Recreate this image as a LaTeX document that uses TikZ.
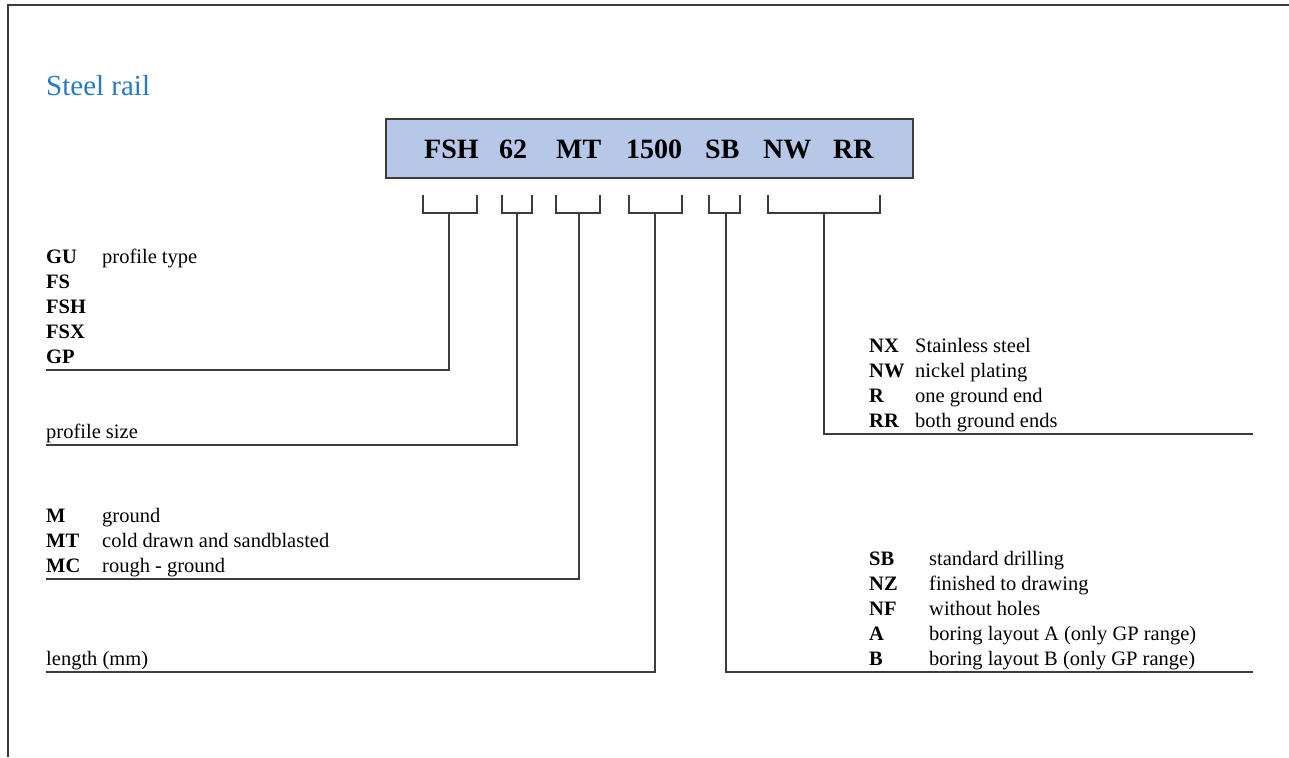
\documentclass[tikz,border=0pt]{standalone}
\usepackage{fontspec}
\setmainfont{Liberation Serif}
\usepackage{array}
\definecolor{codeblue}{RGB}{182,199,231}
\definecolor{titleblue}{RGB}{40,122,192}
\definecolor{linegray}{RGB}{60,60,60}

\tikzset{
  frame/.style={draw=linegray, line width=2pt},
  codebox/.style={draw=linegray, fill=codeblue, line width=2pt, minimum width=527pt, minimum height=59pt, inner sep=0pt},
  token/.style={anchor=base west, inner sep=0pt, font=\fontsize{28}{34}\selectfont\bfseries},
  bracket/.style={draw=linegray, line width=1.2pt},
  leader/.style={draw=linegray, line width=1.3pt},
  legend/.style={anchor=south west, inner xsep=0pt, inner ysep=-1.5pt, font=\fontsize{20.5}{25}\selectfont},
}

\begin{document}
\begin{tikzpicture}[x=1pt, y=-1pt]
        \useasboundingbox (0,0) rectangle (1289,757);
        \draw[frame] (1289,5.5) -- (8,5.5) -- (8,757);

        % --- TITLE AND CODE ---
        \node (title) at (46,96) [anchor=base west, inner sep=0pt, text=titleblue, font=\fontsize{29}{35}\selectfont] {Steel rail};
        \node (code) at (649.5,148.5) [codebox] {};
        \node (fsh) at (424,158) [token] {FSH};
        \node (size62) at (499,158) [token] {62};
        \node (mt) at (556,158) [token] {MT};
        \node (len1500) at (626,158) [token] {1500};
        \node (sb) at (705,158) [token] {SB};
        \node (nw) at (763,158) [token] {NW};
        \node (rr) at (833,158) [token] {RR};

        % --- BRACKETS ---
        \foreach \i/\a/\b/\m in {1/423/477/449, 2/502/532/517, 3/556/600/579, 4/629/682/655, 5/709/740/726, 6/768/880/824} {
            \draw[bracket] (\a,195) |- (\b,213) -- (\b,195);
            \coordinate (s\i) at (\m,213);
        }
        \coordinate (e5) at (1253,672);
        \coordinate (e6) at (1253,434);

        % --- LEGENDS ---
        \node (type) at (46,370) [legend] {\begin{tabular}{@{}>{\bfseries}p{56pt}@{}l@{}}
            GU & profile type\\ FS\\ FSH\\ FSX\\ GP\end{tabular}};
        \node (size) at (46,445) [legend] {\strut profile size};
        \node (finish) at (46,579) [legend] {\begin{tabular}{@{}>{\bfseries}p{56pt}@{}l@{}}
            M & ground\\ MT & cold drawn and sandblasted\\ MC & rough - ground\end{tabular}};
        \node (length) at (46,672) [legend] {\strut length (mm)};
        \node (plating) at (869,434) [legend] {\begin{tabular}{@{}>{\bfseries}p{46pt}@{}l@{}}
            NX & Stainless steel\\ NW & nickel plating\\ R & one ground end\\ RR & both ground ends\end{tabular}};
        \node (holes) at (869,672) [legend] {\begin{tabular}{@{}>{\bfseries}p{60pt}@{}l@{}}
            SB & standard drilling\\ NZ & finished to drawing\\ NF & without holes\\
            A & boring layout A (only GP range)\\ B & boring layout B (only GP range)\end{tabular}};

        \draw[leader] (s1) |- (type.south west);
        \draw[leader] (s2) |- (size.south west);
        \draw[leader] (s3) |- (finish.south west);
        \draw[leader] (s4) |- (length.south west);
        \draw[leader] (s5) |- (e5);
        \draw[leader] (s6) |- (e6);
    \end{tikzpicture}
\end{document}
